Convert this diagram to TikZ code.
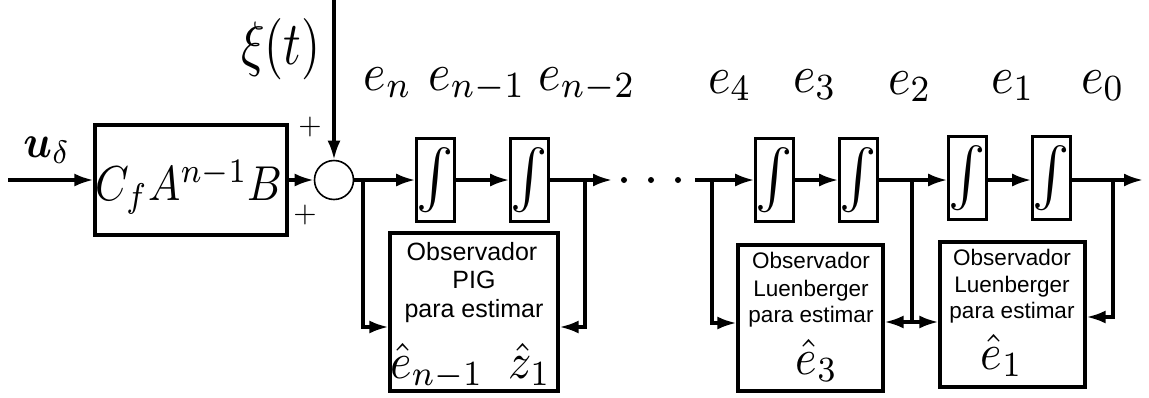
\documentclass[tikz,border=0pt]{standalone}
\usepackage{fontspec}
\newfontfamily\arialf{Liberation Sans}
\usepackage{graphicx}
\usetikzlibrary{arrows.meta}
\newcommand{\mathlbl}[3]{\scalebox{\fpeval{#1/10}}[\fpeval{#1*#2/10}]{\fontsize{10}{12}\selectfont$#3$}}
\begin{document}
\begin{tikzpicture}[x=1pt,y=-1pt,
  wire/.style={line width=3.2pt},
  arr/.style={wire,-{Latex[length=19pt,width=13pt]}},
  box/.style={draw,line width=3.2pt,inner sep=0pt,rectangle},
  intbox/.style={box,minimum width=35pt,minimum height=83pt},
  sans/.style={font=\arialf\fontsize{25}{25}\selectfont,inner sep=0pt,anchor=base},
  lsans/.style={font=\arialf\fontsize{22.5}{22.5}\selectfont,inner sep=0pt,anchor=base},
  lbl/.style={inner sep=0pt,anchor=base}]
\useasboundingbox (0,0) rectangle (1149,397);
\fill[white] (0,0) rectangle (1149,397);

% blocks
\node[box,minimum width=192pt,minimum height=110pt] (cb) at (191,180) {};
\node[lbl] (cbt) at (189,200) {\mathlbl{43}{1.14}{C_fA^{n-1}B}};
\node[draw,circle,line width=1.6pt,minimum size=39pt,inner sep=0pt] (sum) at (334,180) {};
\node[intbox] (i1) at (435.5,180) {\mathlbl{56}{1.05}{\int}};
\node[intbox] (i2) at (529.5,180) {\mathlbl{56}{1.05}{\int}};
\node[intbox] (i3) at (774.5,180) {\mathlbl{56}{1.05}{\int}};
\node[intbox] (i4) at (858.5,180) {\mathlbl{56}{1.05}{\int}};
\node[intbox] (i5) at (967.5,178) {\mathlbl{56}{1.05}{\int}};
\node[intbox] (i6) at (1051.5,178) {\mathlbl{56}{1.05}{\int}};
\node[box,minimum width=168pt,minimum height=158pt] (pig) at (474,312) {};
\node[box,minimum width=145pt,minimum height=146pt] (L1) at (810.5,318) {};
\node[box,minimum width=145pt,minimum height=145pt] (L2) at (1012.5,314.5) {};

% labels
\node[lbl] (xi) at (281,64) {\mathlbl{49}{1.25}{\xi(t)}};
\node[lbl] (ud) at (47,157) {\mathlbl{42}{1.1}{\mbox{\boldmath$u$}_\delta}};
\node (p1) at (310,127) {\mathlbl{30}{1}{+}};
\node (p2) at (305,215) {\mathlbl{30}{1}{+}};
\node[lbl] (en) at (388,90) {\mathlbl{48}{1.1}{e_n}};
\node[lbl] (enm1) at (477,90) {\mathlbl{48}{1.1}{e_{n-1}}};
\node[lbl] (enm2) at (587,90) {\mathlbl{48}{1.1}{e_{n-2}}};
\node[lbl] (e4) at (730,93) {\mathlbl{48}{1.1}{e_4}};
\node[lbl] (e3) at (815,92) {\mathlbl{48}{1.1}{e_3}};
\node[lbl] (e2) at (910,94) {\mathlbl{48}{1.1}{e_2}};
\node[lbl] (e1) at (1013,93) {\mathlbl{48}{1.1}{e_1}};
\node[lbl] (e0) at (1103,93) {\mathlbl{48}{1.1}{e_0}};

\node[sans] (pa) at (472,260) {Observador};
\node[sans] (pb) at (474,288) {PIG};
\node[sans] (pc) at (474,317) {para estimar};
\node[lbl] (pd) at (437,378) {\mathlbl{46}{1.1}{\hat{e}_{n-1}}};
\node[lbl] (pe) at (530,378) {\mathlbl{46}{1.1}{\hat{z}_1}};

\node[lsans] (la) at (811,268) {Observador};
\node[lsans] (lb) at (811,296) {Luenberger};
\node[lsans] (lc) at (811,322) {para estimar};
\node[lbl] (ld) at (817,374) {\mathlbl{46}{1.1}{\hat{e}_3}};

\node[lsans] (ma) at (1012,265) {Observador};
\node[lsans] (mb) at (1012,292) {Luenberger};
\node[lsans] (mc) at (1012,318) {para estimar};
\node[lbl] (md) at (1002,369) {\mathlbl{46}{1.1}{\hat{e}_1}};

% connectors
\coordinate (in) at (8,180);
\draw[arr] (in) -- (cb);
\draw[arr] (cb) -- (sum);
\coordinate (xitop) at (334,0);
\draw[arr] (xitop) -- (sum);
\draw[arr] (sum) -- (i1);
\coordinate (b1) at (363,180);
\draw[arr] (b1) |- (pig.west |- 0,327);
\draw[arr] (i1) -- (i2);
\coordinate (o2) at (612,180);
\draw[arr] (i2) -- (o2);
\coordinate (b2) at (585,180);
\draw[arr] (b2) |- (pig.east |- 0,327);
\fill (624,180) circle (3pt) (651,180) circle (3pt) (678,180) circle (3pt);
\coordinate (o3) at (695,180);
\draw[arr] (o3) -- (i3.west |- o3);
\coordinate (b3) at (712,180);
\draw[arr] (b3) |- (L1.west |- 0,323);
\draw[arr] (i3) -- (i4);
\draw[arr] (i4.east |- o3) -- (i5.west |- o3);
\coordinate (b4) at (912,180);
\coordinate (b4lo) at (912,322);
\draw[wire] (b4) -- (b4lo);
\draw[arr] (b4lo) -- (L1.east |- b4lo);
\draw[arr] (b4lo) -- (L2.west |- b4lo);
\draw[arr] (i5.east |- o3) -- (i6.west |- o3);
\coordinate (out) at (1143,180);
\draw[arr] (i6.east |- out) -- (out);
\coordinate (b5) at (1113,180);
\draw[arr] (b5) |- (L2.east |- 0,317);
\end{tikzpicture}
\end{document}
